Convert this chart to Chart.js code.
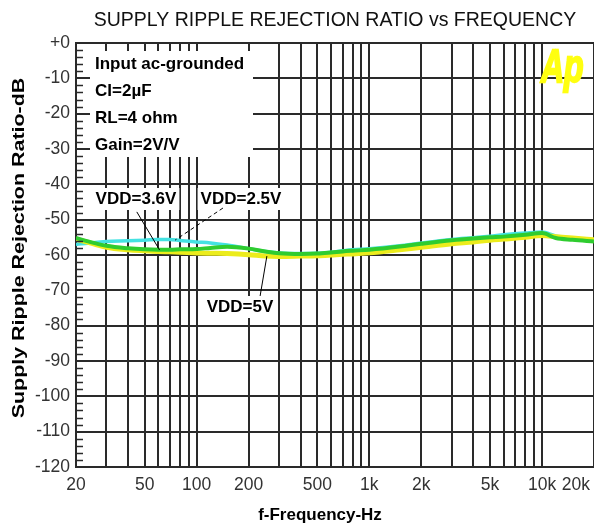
<!DOCTYPE html>
<html>
<head>
<meta charset="utf-8">
<script src="https://cdn.jsdelivr.net/npm/chart.js@4.4.1/dist/chart.umd.min.js"></script>
<style>
  html, body { margin: 0; padding: 0; background: #fff; }
  #wrap { width: 594px; height: 528px; }
</style>
</head>
<body>
<div id="wrap"><canvas id="srrChart"></canvas></div>
<script>
// frequency points (Hz) and PSRR curves (dB)
var freqs = [20, 25, 30, 40, 50, 60, 70, 80, 100, 120, 150, 200, 250, 300, 400, 500, 600, 700, 800, 1000,
             1500, 2000, 3000, 4000, 5000, 6000, 8000, 10000, 12000, 15000, 20000];
var vdd25 = [-57.0, -56.5, -56.2, -56.0, -55.8, -55.6, -55.6, -55.9, -56.3, -56.6, -57.2, -58.2, -59.0, -59.4, -59.6, -59.5,
             -59.2, -58.8, -58.5, -58.2, -57.4, -56.6, -55.6, -55.1, -54.7, -54.3, -53.8, -53.5, -54.6, -55.2, -55.8];
var vdd36 = [-55.2, -56.5, -57.4, -58.1, -58.4, -58.5, -58.5, -58.4, -58.3, -58.0, -57.7, -58.2, -59.0, -59.5, -59.7, -59.6,
             -59.3, -59.0, -58.8, -58.5, -57.6, -56.8, -55.8, -55.3, -55.0, -54.8, -54.3, -53.8, -55.2, -55.7, -56.2];
var vdd50 = [-55.5, -56.8, -57.8, -58.5, -58.8, -59.0, -59.1, -59.2, -59.4, -59.5, -59.6, -59.9, -60.3, -60.4, -60.3, -60.2,
             -60.0, -59.8, -59.7, -59.4, -58.5, -57.8, -56.8, -56.3, -55.8, -55.5, -55.0, -54.5, -54.8, -55.2, -55.7];

var gridFreqs = [20, 30, 40, 50, 60, 70, 80, 90, 100, 200, 300, 400, 500, 600, 700, 800, 900, 1000,
                 2000, 3000, 4000, 5000, 6000, 7000, 8000, 9000, 10000, 20000];
var xTickValues = [20, 50, 100, 200, 500, 1000, 2000, 5000, 10000, 20000];
var xTickLabels = ['20', '50', '100', '200', '500', '1k', '2k', '5k', '10k', '20k'];
var yTickValues = [0, -10, -20, -30, -40, -50, -60, -70, -80, -90, -100, -110, -120];
var yTickLabels = ['+0', '-10', '-20', '-30', '-40', '-50', '-60', '-70', '-80', '-90', '-100', '-110', '-120'];
var noteLines = ['Input ac-grounded', 'CI=2\u00b5F', 'RL=4 ohm', 'Gain=2V/V'];

var gridColor = '#2a2a2a';

function line(ctx, x1, y1, x2, y2) {
    ctx.beginPath();
    ctx.moveTo(x1, y1);
    ctx.lineTo(x2, y2);
    ctx.stroke();
}

function whiteText(ctx, text, cx, cy) {
    var w = ctx.measureText(text).width;
    ctx.fillStyle = '#fff';
    ctx.fillRect(cx - w / 2 - 3, cy - 11, w + 6, 22);
    ctx.fillStyle = '#000';
    ctx.fillText(text, cx, cy);
}

var extras = {
    id: 'extras',
    afterDraw: function(chart) {
        var ctx = chart.ctx;
        var xs = chart.scales.x, ys = chart.scales.y;
        var area = chart.chartArea;
        ctx.save();

        // minor ticks on the left axis every 2 dB
        ctx.strokeStyle = gridColor;
        ctx.lineWidth = 1.5;
        for (var v = -118; v < 0; v += 2) {
            if (v % 10 === 0) continue;
            var py = Math.round(ys.getPixelForValue(v)) + 0.5;
            line(ctx, area.left, py, area.left + 7, py);
        }

        // x tick labels
        ctx.font = '17.5px "Liberation Sans", Arial, sans-serif';
        ctx.fillStyle = '#333';
        ctx.textBaseline = 'middle';
        ctx.textAlign = 'left';
        xTickValues.forEach(function(val, i) {
            var px = xs.getPixelForValue(val);
            var w = ctx.measureText(xTickLabels[i]).width;
            var left = Math.min(px - w / 2, chart.width - w - 4);
            ctx.fillText(xTickLabels[i], left, 485);
        });

        // axis titles
        ctx.fillStyle = '#000';
        ctx.textAlign = 'center';
        ctx.font = 'bold 17px "Liberation Sans", Arial, sans-serif';
        ctx.fillText('f-Frequency-Hz', 320, 515);

        ctx.save();
        ctx.translate(20, 248);
        ctx.rotate(-Math.PI / 2);
        ctx.scale(1.34, 1);
        ctx.font = 'bold 16px "Liberation Sans", Arial, sans-serif';
        ctx.fillText('Supply Ripple Rejection Ratio-dB', 0, 0);
        ctx.restore();

        // conditions box
        ctx.fillStyle = '#fff';
        ctx.fillRect(90, 51, 163, 106);
        ctx.fillStyle = '#000';
        ctx.textAlign = 'left';
        noteLines.forEach(function(t, i) {
            ctx.fillText(t, 95, 64 + i * 27);
        });

        // curve labels with leader lines
        ctx.textAlign = 'center';
        whiteText(ctx, 'VDD=3.6V', 136, 199);
        whiteText(ctx, 'VDD=2.5V', 241, 199);
        whiteText(ctx, 'VDD=5V', 240, 307);

        ctx.strokeStyle = '#000';
        ctx.lineWidth = 1;
        line(ctx, xs.getPixelForValue(45), ys.getPixelForValue(-47.8),
                  xs.getPixelForValue(61), ys.getPixelForValue(-58.6));
        line(ctx, xs.getPixelForValue(255), ys.getPixelForValue(-60.3),
                  xs.getPixelForValue(233), ys.getPixelForValue(-71.6));
        ctx.setLineDash([4, 3]);
        line(ctx, xs.getPixelForValue(142), ys.getPixelForValue(-46.7),
                  xs.getPixelForValue(75), ys.getPixelForValue(-55.8));
        ctx.setLineDash([]);

        // logo
        ctx.save();
        ctx.translate(541, 82);
        ctx.scale(0.8, 1.15);
        ctx.font = 'bold italic 40px "Liberation Sans", Arial, sans-serif';
        ctx.fillStyle = '#ffff10';
        ctx.strokeStyle = '#ffff10';
        ctx.lineWidth = 2;
        ctx.textAlign = 'left';
        ctx.textBaseline = 'alphabetic';
        ctx.fillText('Ap', 0, 0);
        ctx.strokeText('Ap', 0, 0);
        ctx.restore();

        ctx.restore();
    }
};

var ctx = document.getElementById('srrChart').getContext('2d');
var chart = new Chart(ctx, {
    type: 'line',
    data: {
        labels: freqs,
        datasets: [{
            label: 'VDD=3.6V',
            data: vdd36,
            borderColor: '#2fcc2f',
            borderWidth: 4
        },
        {
            label: 'VDD=5V',
            data: vdd50,
            borderColor: '#ecec1c',
            borderWidth: 5
        },
        {
            label: 'VDD=2.5V',
            data: vdd25,
            borderColor: '#44e2e2',
            borderWidth: 3.5
        }]
    },
    options: {
        responsive: true,
        maintainAspectRatio: false,
        animation: false,
        elements: {
            point: { radius: 0 },
            line: { cubicInterpolationMode: 'monotone', fill: false }
        },
        layout: { padding: 0 },
        plugins: {
            legend: { display: false },
            tooltip: { enabled: false },
            title: {
                display: true,
                fullSize: false,
                text: 'SUPPLY RIPPLE REJECTION RATIO vs FREQUENCY',
                color: '#111',
                font: { family: '"Liberation Sans", Arial, sans-serif', size: 19.5, weight: 'normal', lineHeight: 1.2 },
                padding: { top: 9, bottom: 10.6 }
            }
        },
        scales: {
            x: {
                type: 'logarithmic',
                min: 20,
                max: 20000,
                afterBuildTicks: function(scale) {
                    scale.ticks = gridFreqs.map(function(v) { return { value: v }; });
                },
                afterFit: function(scale) { scale.height = 61; },
                ticks: { display: false, autoSkip: false },
                grid: { color: gridColor, lineWidth: 2, drawTicks: false },
                border: { color: gridColor, width: 2 }
            },
            y: {
                type: 'linear',
                min: -120,
                max: 0,
                afterBuildTicks: function(scale) {
                    scale.ticks = yTickValues.map(function(v) { return { value: v }; });
                },
                afterFit: function(scale) { scale.width = 76; },
                ticks: {
                    autoSkip: false,
                    padding: 6,
                    color: '#333',
                    font: { family: '"Liberation Sans", Arial, sans-serif', size: 17.5 },
                    callback: function(value) {
                        return yTickLabels[yTickValues.indexOf(value)];
                    }
                },
                grid: { color: gridColor, lineWidth: 2, drawTicks: false },
                border: { color: gridColor, width: 2 }
            }
        }
    },
    plugins: [extras]
});
</script>
</body>
</html>
